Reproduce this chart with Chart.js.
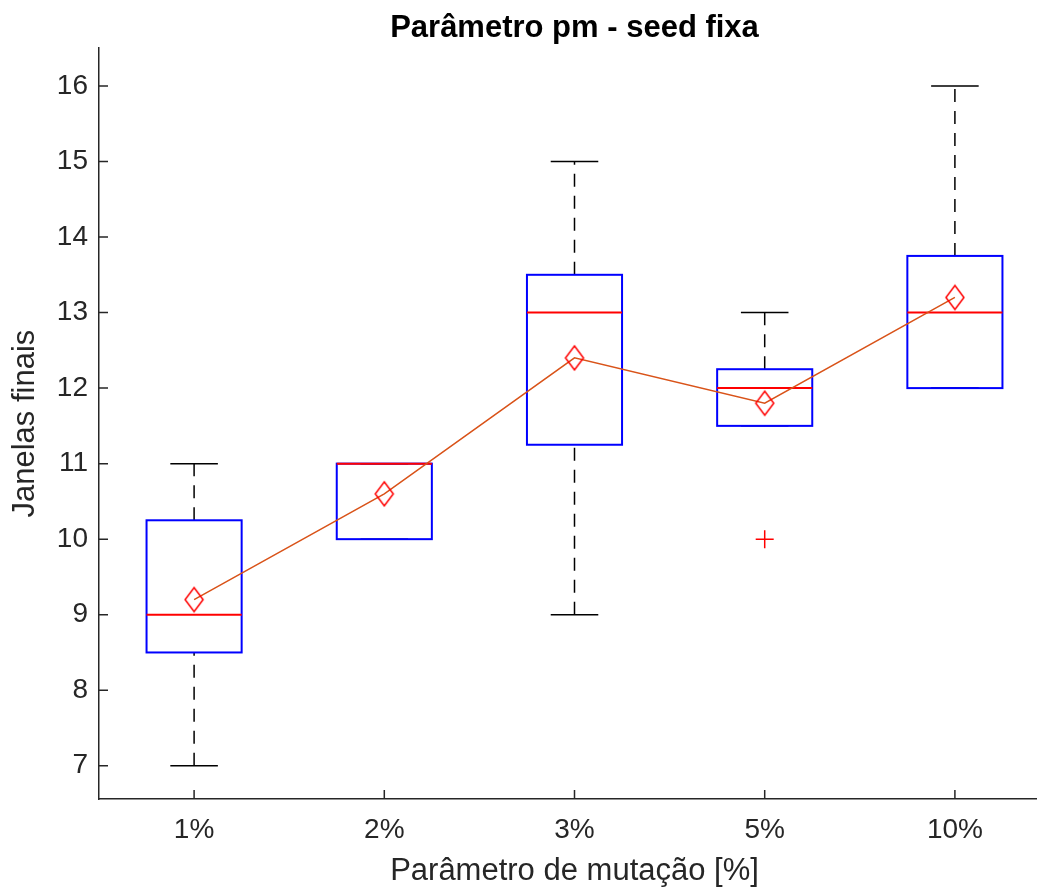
<!DOCTYPE html>
<html>
<head>
<meta charset="utf-8">
<title>Parâmetro pm - seed fixa</title>
<script src="https://cdn.jsdelivr.net/npm/chart.js@4.4.1/dist/chart.umd.min.js"></script>
<style>
    html, body { margin: 0; padding: 0; background: #fff; overflow: hidden; }
    #wrap { width: 1100px; height: 891px; }
</style>
</head>
<body>
<div id="wrap"><canvas id="boxChart" width="1100" height="891"></canvas></div>
<script>
// box plot summary
const categories = ["1%", "2%", "3%", "5%", "10%"];
const positions = [1, 2, 3, 4, 5];
const whiskerLow = [7, 10, 9, 11.5, 12];
const q1 = [8.5, 10, 11.25, 11.5, 12];
const medians = [9, 11, 13, 12, 13];
const q3 = [10.25, 11, 13.5, 12.25, 13.75];
const whiskerHigh = [11, 11, 15, 13, 16];
const means = [9.2, 10.6, 12.4, 11.8, 13.2];
const outlierPos = [4];
const outlierValues = [10];
const yTicks = [7, 8, 9, 10, 11, 12, 13, 14, 15, 16];

const FONT = "'Liberation Sans', Arial, Helvetica, sans-serif";
const AXIS = "#262626";

function makeDiamond() {
    const c = document.createElement("canvas");
    c.width = 22;
    c.height = 28;
    const g = c.getContext("2d");
    g.strokeStyle = "#ff0000";
    g.lineWidth = 1.5;
    g.beginPath();
    g.moveTo(11, 2);
    g.lineTo(20, 14);
    g.lineTo(11, 26);
    g.lineTo(2, 14);
    g.closePath();
    g.stroke();
    return c;
}

const boxPlot = {
    id: "boxPlot",
    beforeDatasetsDraw(chart) {
        const { ctx, scales: { x, y } } = chart;
        const px = v => x.getPixelForValue(v);
        const py = v => y.getPixelForValue(v);
        ctx.save();
        positions.forEach((p, i) => {
            const cx = px(p);
            // dashed whiskers
            ctx.strokeStyle = "#000";
            ctx.lineWidth = 1.5;
            ctx.setLineDash([13, 9]);
            ctx.beginPath();
            ctx.moveTo(cx, py(whiskerLow[i]));
            ctx.lineTo(cx, py(q1[i]));
            ctx.stroke();
            ctx.beginPath();
            ctx.moveTo(cx, py(q3[i]));
            ctx.lineTo(cx, py(whiskerHigh[i]));
            ctx.stroke();
            ctx.setLineDash([]);
            // caps
            ctx.beginPath();
            ctx.moveTo(px(p - 0.125), py(whiskerLow[i]));
            ctx.lineTo(px(p + 0.125), py(whiskerLow[i]));
            ctx.moveTo(px(p - 0.125), py(whiskerHigh[i]));
            ctx.lineTo(px(p + 0.125), py(whiskerHigh[i]));
            ctx.stroke();
            // box
            ctx.strokeStyle = "#0000ff";
            ctx.lineWidth = 2;
            ctx.strokeRect(px(p - 0.25), py(q3[i]), px(p + 0.25) - px(p - 0.25), py(q1[i]) - py(q3[i]));
            // median
            ctx.strokeStyle = "#ff0000";
            ctx.beginPath();
            ctx.moveTo(px(p - 0.25), py(medians[i]));
            ctx.lineTo(px(p + 0.25), py(medians[i]));
            ctx.stroke();
        });
        ctx.restore();
    },
    afterDraw(chart) {
        // inward tick marks like matlab
        const { ctx, chartArea: a, scales: { x, y } } = chart;
        ctx.save();
        ctx.strokeStyle = AXIS;
        ctx.lineWidth = 1.5;
        ctx.beginPath();
        y.ticks.forEach(t => {
            const yy = y.getPixelForValue(t.value);
            ctx.moveTo(a.left, yy);
            ctx.lineTo(a.left + 9, yy);
        });
        x.ticks.forEach(t => {
            const xx = x.getPixelForValue(t.value);
            ctx.moveTo(xx, a.bottom);
            ctx.lineTo(xx, a.bottom - 9);
        });
        ctx.stroke();
        ctx.restore();
    }
};

const chart = new Chart(document.getElementById("boxChart"), {
    type: "line",
    data: {
        datasets: [{
            data: positions.map((p, i) => ({ x: p, y: means[i] })),
            borderColor: "#D95319",
            borderWidth: 1.5,
            pointStyle: makeDiamond(),
            pointRadius: 10,
            tension: 0
        }, {
            type: "scatter",
            data: outlierPos.map((p, i) => ({ x: p, y: outlierValues[i] })),
            pointStyle: "cross",
            pointRadius: 9,
            borderColor: "#ff0000",
            borderWidth: 1.5
        }]
    },
    options: {
        responsive: false,
        animation: false,
        layout: { padding: { left: 0, right: 50, top: 0, bottom: 0 } },
        plugins: {
            legend: { display: false },
            tooltip: { enabled: false },
            title: {
                display: true,
                text: "Parâmetro pm - seed fixa",
                fullSize: false,
                color: "#000",
                font: { family: FONT, size: 31, weight: "bold" },
                padding: { top: 10, bottom: 1 }
            }
        },
        scales: {
            x: {
                type: "linear",
                min: 0.5,
                max: 5.5,
                afterBuildTicks: s => { s.ticks = positions.map(v => ({ value: v })); },
                afterFit: s => { s.height = 92; },
                grid: { display: false, drawTicks: false },
                border: { display: true, color: AXIS, width: 1.5 },
                ticks: {
                    color: AXIS,
                    font: { family: FONT, size: 28 },
                    padding: 14,
                    maxRotation: 0,
                    callback: v => categories[positions.indexOf(v)]
                },
                title: {
                    display: true,
                    text: "Parâmetro de mutação [%]",
                    color: AXIS,
                    font: { family: FONT, size: 31 },
                    padding: { top: 0, bottom: 1 }
                }
            },
            y: {
                min: 6.56,
                max: 16.5,
                afterBuildTicks: s => { s.ticks = yTicks.map(v => ({ value: v })); },
                afterFit: s => { s.width = 99; },
                grid: { display: false, drawTicks: false },
                border: { display: true, color: AXIS, width: 1.5 },
                ticks: {
                    color: AXIS,
                    font: { family: FONT, size: 28 },
                    padding: 11
                },
                title: {
                    display: true,
                    text: "Janelas finais",
                    color: AXIS,
                    font: { family: FONT, size: 31 },
                    padding: { top: 7, bottom: 0 }
                }
            }
        }
    },
    plugins: [boxPlot]
});
</script>
</body>
</html>
